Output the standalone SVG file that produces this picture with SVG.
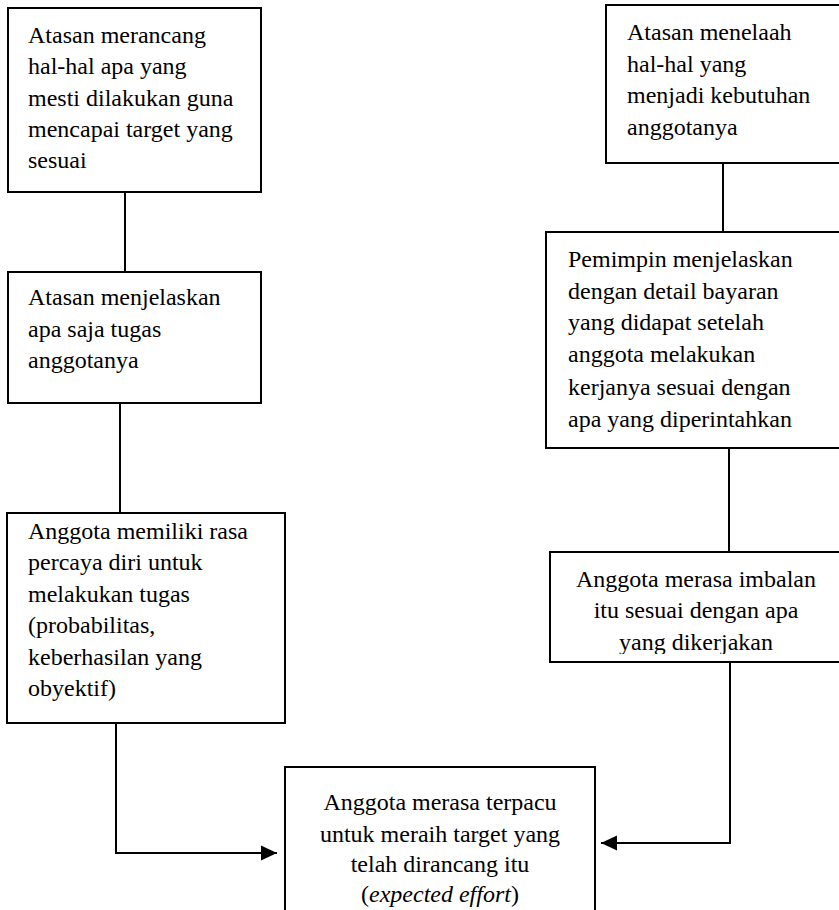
<svg xmlns="http://www.w3.org/2000/svg" width="839" height="910" viewBox="0 0 839 910">
<style>
.box{fill:#fff;stroke:#000;stroke-width:2}
.t{font-family:"Liberation Serif","Times New Roman",serif;font-size:24px;fill:#000}
.c{text-anchor:middle}
.ln{fill:none;stroke:#000;stroke-width:2}
</style>
<defs>
<marker id="ah" markerWidth="16" markerHeight="16" refX="16" refY="8" orient="auto" markerUnits="userSpaceOnUse">
<path d="M0,0.5 L16,8 L0,15.5 Z" fill="#000"/>
</marker>
<clipPath id="cl5"><rect x="540" y="545" width="300" height="109"/></clipPath>
</defs>
<rect width="839" height="910" fill="#fff"/>
<g id="connectors">
<line class="ln" x1="125" y1="192" x2="125" y2="272"/>
<line class="ln" x1="120" y1="403" x2="120" y2="513"/>
<polyline class="ln" points="116,723 116,853 277,853" marker-end="url(#ah)"/>
<line class="ln" x1="723" y1="163" x2="723" y2="232"/>
<line class="ln" x1="729" y1="448" x2="729" y2="552"/>
<polyline class="ln" points="730,662 730,843 601,843" marker-end="url(#ah)"/>
</g>
<g id="n1">
<rect class="box" x="8" y="8" width="253" height="184"/>
<text class="t" x="28" y="43">Atasan merancang</text>
<text class="t" x="28" y="74">hal-hal apa yang</text>
<text class="t" x="28" y="106">mesti dilakukan guna</text>
<text class="t" x="28" y="137">mencapai target yang</text>
<text class="t" x="28" y="168">sesuai</text>
</g>
<g id="n2">
<rect class="box" x="8" y="272" width="253" height="131"/>
<text class="t" x="28" y="305">Atasan menjelaskan</text>
<text class="t" x="28" y="337">apa saja tugas</text>
<text class="t" x="28" y="368">anggotanya</text>
</g>
<g id="n3">
<rect class="box" x="7" y="513" width="278" height="210"/>
<text class="t" x="28" y="539">Anggota memiliki rasa</text>
<text class="t" x="28" y="570">percaya diri untuk</text>
<text class="t" x="28" y="602">melakukan tugas</text>
<text class="t" x="28" y="633">(probabilitas,</text>
<text class="t" x="28" y="665">keberhasilan yang</text>
<text class="t" x="28" y="696">obyektif)</text>
</g>
<g id="n4">
<rect class="box" x="606" y="5" width="240" height="158"/>
<text class="t" x="627" y="40">Atasan menelaah</text>
<text class="t" x="627" y="72">hal-hal yang</text>
<text class="t" x="627" y="103">menjadi kebutuhan</text>
<text class="t" x="627" y="135">anggotanya</text>
</g>
<g id="n5">
<rect class="box" x="546" y="232" width="300" height="216"/>
<text class="t" x="568" y="267">Pemimpin menjelaskan</text>
<text class="t" x="568" y="299">dengan detail bayaran</text>
<text class="t" x="568" y="330">yang didapat setelah</text>
<text class="t" x="568" y="362">anggota melakukan</text>
<text class="t" x="568" y="395">kerjanya sesuai dengan</text>
<text class="t" x="568" y="427">apa yang diperintahkan</text>
</g>
<g id="n6">
<rect class="box" x="550" y="552" width="296" height="110"/>
<g clip-path="url(#cl5)">
<text class="t c" x="696" y="587">Anggota merasa imbalan</text>
<text class="t c" x="696" y="618">itu sesuai dengan apa</text>
<text class="t c" x="696" y="650">yang dikerjakan</text>
</g>
</g>
<g id="n7">
<rect class="box" x="285" y="767" width="310" height="160"/>
<text class="t c" x="440" y="810">Anggota merasa terpacu</text>
<text class="t c" x="440" y="842">untuk meraih target yang</text>
<text class="t c" x="440" y="872">telah dirancang itu</text>
<text class="t c" x="440" y="902">(<tspan font-style="italic">expected effort</tspan>)</text>
</g>
</svg>
